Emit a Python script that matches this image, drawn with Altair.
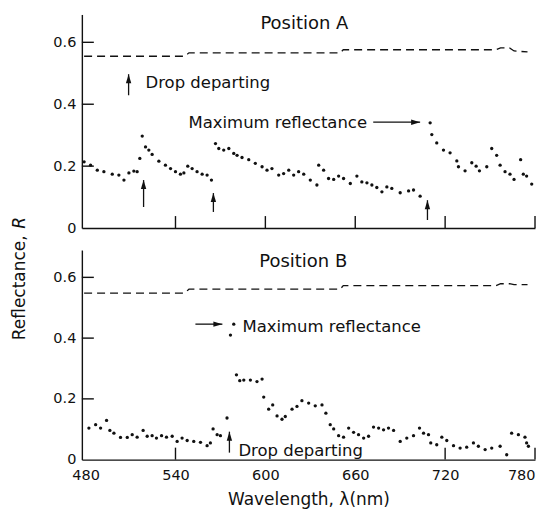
import altair as alt
import pandas as pd

# ---------------- data ----------------
# Position A
a_wl = [479, 483.3, 487.8, 492.2, 497.8, 502.2, 505.6, 508.9, 512.2, 514.4, 516.2, 517.8, 520, 522.2,
        524.4, 528.9, 533.3, 536.7, 540, 543.3, 545.6, 548.2, 551.1, 554.4, 557.8, 561.1, 564, 566.7,
        568.9, 572.2, 575.6, 578.9, 581.1, 584.4, 588.9, 593.3, 597.8, 601.1, 604.4, 608.9, 612.2,
        615.6, 618.9, 622.2, 625.6, 630, 634.4, 635.6, 638.9, 642.2, 645.6, 648.9, 652.2, 656.7, 661.1,
        664.4, 667.8, 671.1, 674.4, 677.8, 681.1, 684.4, 690, 695.6, 698.9, 703.3, 710, 711.1, 714.4,
        718.9, 723.3, 727.8, 728.9, 733.3, 737.8, 740.7, 742.9, 747.8, 751.1, 754.4, 756.7, 760, 763.3,
        766, 770.4, 772.2, 774.4, 777.8]
a_r = [0.214, 0.203, 0.187, 0.182, 0.174, 0.171, 0.155, 0.178, 0.184, 0.182, 0.225, 0.297, 0.262, 0.252,
       0.238, 0.216, 0.203, 0.192, 0.182, 0.174, 0.178, 0.200, 0.192, 0.182, 0.174, 0.171, 0.155, 0.273,
       0.257, 0.252, 0.257, 0.241, 0.235, 0.228, 0.221, 0.209, 0.198, 0.187, 0.192, 0.171, 0.176,
       0.187, 0.171, 0.182, 0.174, 0.155, 0.139, 0.203, 0.187, 0.160, 0.157, 0.168, 0.160, 0.144, 0.168,
       0.149, 0.146, 0.139, 0.131, 0.117, 0.133, 0.128, 0.114, 0.120, 0.123, 0.103, 0.340, 0.302, 0.275,
       0.252, 0.243, 0.217, 0.198, 0.185, 0.211, 0.200, 0.185, 0.198, 0.257, 0.235, 0.203, 0.182, 0.174,
       0.157, 0.221, 0.174, 0.168, 0.142]

# Position B
b_wl = [482.2, 486.7, 490, 494, 496.2, 498.9, 503.3, 507.8, 511.1, 514.4, 518.4, 521.1, 524.4, 527.3,
        530.7, 534, 537.8, 541.1, 544.4, 547.8, 552.2, 556.7, 561.1, 563.3, 565.1, 567.8, 570, 574.4,
        576.7, 578.9, 580.7, 582.9, 585.6, 590, 594.4, 597.8, 598.9, 602.2, 604.9, 607.8, 611.1, 613.3,
        617.8, 621.1, 624.4, 628.9, 633.3, 637.8, 640.4, 643.3, 645.6, 648.9, 652.2, 655.6, 658.9, 662.2,
        665.6, 668.9, 672.2, 675.6, 678.9, 682.2, 685.6, 690, 694.4, 698.9, 702.9, 705.6, 708.9, 710.4,
        714.4, 717.8, 721.1, 725.6, 730, 734.4, 738.9, 742.2, 746.7, 751.1, 756.7, 761.1, 764.4, 768.9,
        773.3, 774.4, 775.6]
b_r = [0.104, 0.115, 0.104, 0.129, 0.096, 0.087, 0.073, 0.073, 0.082, 0.074, 0.096, 0.077, 0.079, 0.071,
       0.079, 0.074, 0.077, 0.060, 0.071, 0.063, 0.060, 0.057, 0.046, 0.055, 0.101, 0.082, 0.079, 0.137,
       0.410, 0.446, 0.279, 0.260, 0.262, 0.262, 0.257, 0.265, 0.206, 0.166, 0.180, 0.144, 0.133, 0.142,
       0.166, 0.175, 0.194, 0.186, 0.177, 0.180, 0.153, 0.115, 0.101, 0.079, 0.074, 0.104, 0.090, 0.082,
       0.071, 0.077, 0.107, 0.104, 0.098, 0.104, 0.096, 0.060, 0.071, 0.079, 0.104, 0.087, 0.082, 0.055,
       0.049, 0.074, 0.063, 0.046, 0.038, 0.041, 0.055, 0.044, 0.033, 0.038, 0.044, 0.016, 0.087, 0.082,
       0.074, 0.055, 0.044]

# dashed upper curves
a_ref_wl = [479, 546, 549, 650, 652, 754, 757, 763, 766, 775]
a_ref_r = [0.555, 0.555, 0.566, 0.566, 0.576, 0.576, 0.582, 0.582, 0.572, 0.569]
b_ref_wl = [479, 546, 549, 650, 652, 754, 757, 763, 766, 775]
b_ref_r = [0.548, 0.548, 0.561, 0.561, 0.573, 0.573, 0.579, 0.579, 0.576, 0.576]

# axis ticks
x_ticks = [480, 540, 600, 660, 720, 780]
a_x_inner_ticks = [540, 600, 660, 720, 780]
b_x_inner_ticks = [540, 720, 780]
y_ticks = [0, 0.2, 0.4, 0.6]
y_inner_ticks = [0.2, 0.4, 0.6]

# annotations: vertical arrows (wavelength, tip, base)
a_varrow_wl = [508.7, 518.7, 565.3, 708.2]
a_varrow_tip = [0.497, 0.155, 0.113, 0.090]
a_varrow_base = [0.429, 0.068, 0.052, 0.026]
b_varrow_wl = [576]
b_varrow_tip = [0.092]
b_varrow_base = [0.023]
# horizontal arrows (start, end, level)
a_harrow = [(672, 703.3, 0.342)]
b_harrow = [(553.3, 571.3, 0.446)]
# texts (wl, r, text, align, size)
a_texts = [(626, 0.642, "Position A", "center", 18),
           (520, 0.452, "Drop departing", "left", 16.5),
           (548.7, 0.323, "Maximum reflectance", "left", 16.5)]
b_texts = [(625.3, 0.633, "Position B", "center", 18),
           (584.7, 0.420, "Maximum reflectance", "left", 16.5),
           (582, 0.013, "Drop departing", "left", 16.5)]

FONT = "DejaVu Sans"
INK = "#111111"
XD = [477.5, 780]
YD = [0, 0.69]
W = 454

UP = "M0,0L0.3,1L-0.3,1Z"
RIGHT = "M0,0L-1,0.3L-1,-0.3Z"


def panel(pts_wl, pts_r, ref_wl, ref_r, inner_x, vw, vt, vb, harrows, texts, height, bottom):
    if bottom:
        xaxis = alt.Axis(values=x_ticks, ticks=False, tickSize=0, labelPadding=9, labelFontSize=14.5,
                         labelFont=FONT, labelColor=INK, domainColor=INK, domainWidth=1.4, grid=False,
                         titleFont=FONT, titleFontSize=17, titleFontWeight="normal", titleColor=INK,
                         titlePadding=9)
        xtitle = "Wavelength, λ(nm)"
    else:
        xaxis = alt.Axis(values=x_ticks, ticks=False, labels=False, domainColor=INK, domainWidth=1.4,
                         grid=False)
        xtitle = None
    yaxis = alt.Axis(values=y_ticks, ticks=False, tickSize=0, labelPadding=6, labelFontSize=14.5,
                     labelFont=FONT, labelColor=INK, domainColor=INK, domainWidth=1.4, grid=False,
                     labelExpr="datum.value == 0 ? '0' : format(datum.value, '.1f')")

    def X(f="wl"):
        return alt.X(f + ":Q", scale=alt.Scale(domain=XD, nice=False, zero=False), axis=xaxis, title=xtitle)

    def Y(f="r"):
        return alt.Y(f + ":Q", scale=alt.Scale(domain=YD, nice=False, zero=False), axis=yaxis, title=None)

    layers = []
    pts = pd.DataFrame({"wl": pts_wl, "r": pts_r})
    layers.append(alt.Chart(pts).mark_circle(size=11, color=INK, opacity=1).encode(x=X(), y=Y()))

    ref = pd.DataFrame({"wl": ref_wl, "r": ref_r})
    layers.append(alt.Chart(ref).mark_line(color=INK, strokeWidth=1.3, strokeDash=[8, 5]).encode(x=X(), y=Y()))

    xt = pd.DataFrame({"wl": inner_x})
    layers.append(alt.Chart(xt).mark_rule(color=INK, strokeWidth=1.4).encode(
        x=X(), y=alt.value(height), y2=alt.value(height - 12)))
    yt = pd.DataFrame({"r": y_inner_ticks})
    layers.append(alt.Chart(yt).mark_rule(color=INK, strokeWidth=1.4).encode(
        y=Y(), x=alt.value(0), x2=alt.value(12)))

    va = pd.DataFrame({"wl": vw, "r": vt, "r2": vb})
    layers.append(alt.Chart(va).mark_rule(color=INK, strokeWidth=1.3).encode(x=X(), y=Y(), y2="r2:Q"))
    layers.append(alt.Chart(va).mark_point(shape=UP, filled=True, size=324, color=INK, opacity=1,
                                           strokeWidth=0).encode(x=X(), y=Y()))

    ha = pd.DataFrame({"wl": [h[0] for h in harrows], "wl2": [h[1] for h in harrows],
                       "r": [h[2] for h in harrows]})
    layers.append(alt.Chart(ha).mark_rule(color=INK, strokeWidth=1.3).encode(x=X(), x2="wl2:Q", y=Y()))
    ha2 = pd.DataFrame({"wl": [h[1] for h in harrows], "r": [h[2] for h in harrows]})
    layers.append(alt.Chart(ha2).mark_point(shape=RIGHT, filled=True, size=324, color=INK, opacity=1,
                                            strokeWidth=0).encode(x=X(), y=Y()))

    for (tw, tr, txt, al, fs) in texts:
        td = pd.DataFrame({"wl": [tw], "r": [tr], "t": [txt]})
        layers.append(alt.Chart(td).mark_text(align=al, baseline="alphabetic", font=FONT, fontSize=fs,
                                              color=INK).encode(x=X(), y=Y(), text="t:N"))

    if bottom:
        # shared y-axis title, drawn as text (italic R)
        t1 = pd.DataFrame({"r": [0.393], "t": ["Reflectance, "]})
        layers.append(alt.Chart(t1).mark_text(angle=270, align="left", baseline="middle", font=FONT,
                                              fontSize=17, color=INK).encode(
            x=alt.value(-62), y=Y(), text="t:N"))
        t2 = pd.DataFrame({"r": [0.760], "t": ["R"]})
        layers.append(alt.Chart(t2).mark_text(angle=270, align="left", baseline="middle", font=FONT,
                                              fontSize=17, fontStyle="italic", color=INK).encode(
            x=alt.value(-62), y=Y(), text="t:N"))

    return alt.layer(*layers).properties(width=W, height=height)


top = panel(a_wl, a_r, a_ref_wl, a_ref_r, a_x_inner_ticks, a_varrow_wl, a_varrow_tip, a_varrow_base,
            a_harrow, a_texts, 214, False)
bot = panel(b_wl, b_r, b_ref_wl, b_ref_r, b_x_inner_ticks, b_varrow_wl, b_varrow_tip, b_varrow_base,
            b_harrow, b_texts, 210, True)

chart = alt.vconcat(top, bot, spacing=22, bounds="flush").properties(
    padding={"left": 2, "top": 6, "right": 5, "bottom": 3},
    background="white",
).configure_view(stroke=None)

chart.save("out.html", embed_options={"renderer": "svg", "actions": False})
